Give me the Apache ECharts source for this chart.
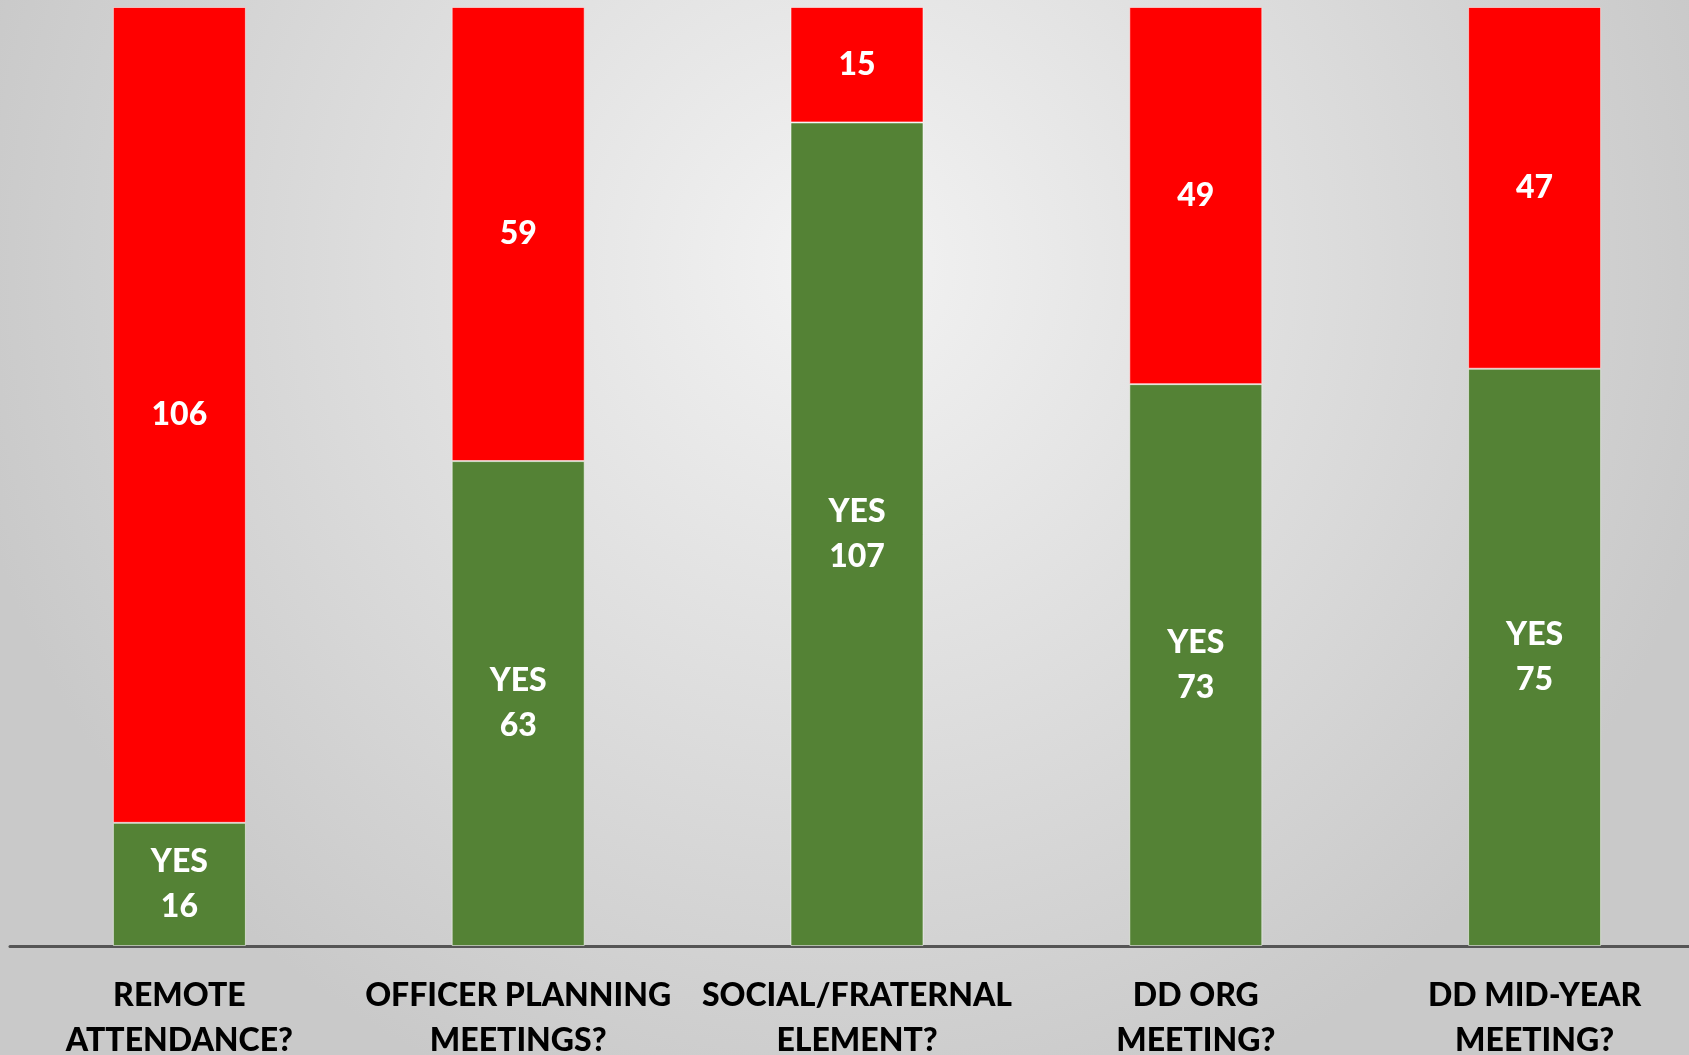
<!DOCTYPE html>
<html>
<head>
<meta charset="utf-8">
<script src="https://cdn.jsdelivr.net/npm/echarts@6/dist/echarts.min.js"></script>
<style>
  html, body { margin: 0; padding: 0; }
  #chart { width: 1689px; height: 1055px; }
</style>
</head>
<body>
<div id="chart"></div>
<script>
const categories = [
  'REMOTE\nATTENDANCE?',
  'OFFICER PLANNING\nMEETINGS?',
  'SOCIAL/FRATERNAL\nELEMENT?',
  'DD ORG\nMEETING?',
  'DD MID-YEAR\nMEETING?'
]
const yesValues = [16, 63, 107, 73, 75]
const noValues = [106, 59, 15, 49, 47]

const FONT = 'Lato, "Open Sans", sans-serif'

const chart = echarts.init(document.getElementById('chart'))

chart.setOption({
  animation: false,
  backgroundColor: {
    type: 'radial',
    x: 0.5, y: 0.25, r: 0.85,
    colorStops: [
      { offset: 0, color: '#f3f3f3' },
      { offset: 1, color: '#c9c9c9' }
    ]
  },
  grid: { left: 10, width: 1694, top: 7, bottom: 109, outerBoundsMode: 'none', containLabel: false },
  xAxis: {
    type: 'category',
    data: categories,
    axisLine: { show: true, lineStyle: { color: '#555', width: 3 } },
    axisTick: { show: false },
    splitLine: { show: false },
    axisLabel: {
      interval: 0,
      margin: 27,
      color: '#000',
      fontFamily: FONT,
      fontWeight: 900,
      fontSize: 32,
      lineHeight: 45
    }
  },
  yAxis: {
    type: 'value',
    min: 0,
    max: 122,
    show: false
  },
  series: [
    {
      name: 'YES',
      type: 'bar',
      stack: 'total',
      data: yesValues,
      barWidth: 133,
      itemStyle: { color: '#548235', borderColor: 'rgba(255,255,255,0.55)', borderWidth: 1 },
      label: {
        show: true,
        position: 'inside',
        formatter: 'YES\n{c}',
        color: '#fff',
        fontFamily: FONT,
        fontWeight: 900,
        fontSize: 32,
        lineHeight: 45
      }
    },
    {
      name: 'NO',
      type: 'bar',
      stack: 'total',
      data: noValues,
      barWidth: 133,
      itemStyle: { color: '#ff0000', borderColor: 'rgba(255,255,255,0.55)', borderWidth: 1 },
      label: {
        show: true,
        position: 'inside',
        color: '#fff',
        fontFamily: FONT,
        fontWeight: 900,
        fontSize: 32
      }
    }
  ]
})
</script>
</body>
</html>
